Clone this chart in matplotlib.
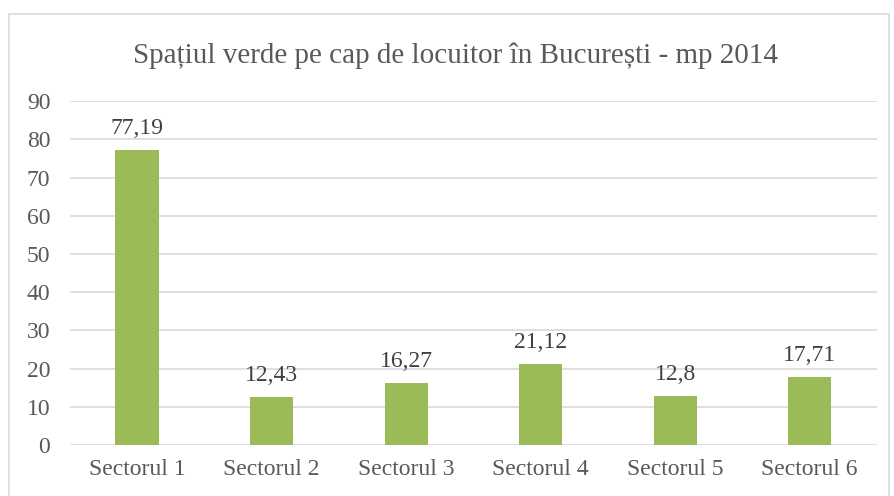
import matplotlib
matplotlib.use('Agg')
import matplotlib.pyplot as plt
from matplotlib.patches import Rectangle

# data
sectors = ['Sectorul 1', 'Sectorul 2', 'Sectorul 3', 'Sectorul 4', 'Sectorul 5', 'Sectorul 6']
values = [77.19, 12.43, 16.27, 21.12, 12.8, 17.71]
value_labels = ['77,19', '12,43', '16,27', '21,12', '12,8', '17,71']
yticks = [0, 10, 20, 30, 40, 50, 60, 70, 80, 90]

text_color = '#595959'
plt.rcParams['font.family'] = ['Liberation Serif', 'DejaVu Serif']

fig = plt.figure(figsize=(8.94, 4.96), dpi=100)
ax = fig.add_axes([0.078, 0.103, 0.903, 0.693])

# outer chart border
fig.patches.append(Rectangle((9 / 894, -0.05), 880 / 894, 1.05 - 14 / 496,
                             transform=fig.transFigure, fill=False,
                             edgecolor='#D9D9D9', linewidth=1.2))

x = range(len(sectors))
bars = ax.bar(x, values, width=0.32, color='#9BBB59', zorder=3)

for bar, lab in zip(bars, value_labels):
    ax.annotate(lab, (bar.get_x() + bar.get_width() / 2, bar.get_height()),
                xytext=(0, 11.5), textcoords='offset points',
                ha='center', va='baseline', fontsize=17, color='#404040')

ax.set_xlim(-0.5, len(sectors) - 0.5)
ax.set_ylim(0, 90)
ax.set_yticks(yticks)
ax.set_xticks(list(x))
ax.set_xticklabels(sectors)
ax.tick_params(axis='both', length=0, labelsize=17, colors=text_color)
ax.tick_params(axis='y', pad=14)
ax.tick_params(axis='x', pad=10)
ax.grid(axis='y', color='#D9D9D9', linewidth=1.2, zorder=0)
for s in ax.spines.values():
    s.set_visible(False)

fig.text(0.509, 0.888, 'Spațiul verde pe cap de locuitor în București - mp 2014',
         ha='center', va='center', fontsize=21, color=text_color)

fig.savefig('out.png', dpi=100)
